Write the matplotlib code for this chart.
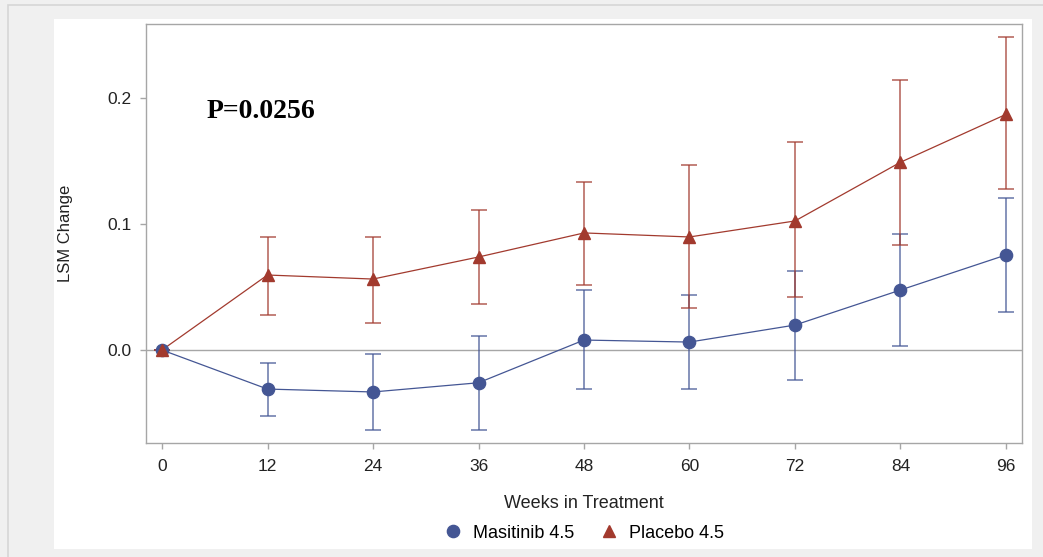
import numpy as np
import matplotlib.pyplot as plt
from matplotlib.patches import Rectangle
from matplotlib.lines import Line2D

# data
weeks = [0, 12, 24, 36, 48, 60, 72, 84, 96]

masitinib = [0.0, -0.031, -0.0333, -0.026, 0.0079, 0.0063, 0.0198, 0.0476, 0.0754]
masitinib_lo = [0.0, -0.0524, -0.0635, -0.0635, -0.031, -0.031, -0.024, 0.003, 0.030]
masitinib_hi = [0.0, -0.0103, -0.0032, 0.011, 0.048, 0.0437, 0.0627, 0.092, 0.1206]

placebo = [0.0, 0.0595, 0.0563, 0.0738, 0.0929, 0.0897, 0.1024, 0.149, 0.187]
placebo_lo = [0.0, 0.0278, 0.0214, 0.0365, 0.0516, 0.0333, 0.042, 0.083, 0.128]
placebo_hi = [0.0, 0.0897, 0.0897, 0.111, 0.1333, 0.1468, 0.165, 0.214, 0.248]

p_text = 'P=0.0256'
blue = '#445694'
red = '#A23A2E'
grey = '#a6a6a6'

plt.rcParams['font.family'] = ['Liberation Sans', 'DejaVu Sans']

fig = plt.figure(figsize=(10.43, 5.57), dpi=100, facecolor='#f0f0f0')

# outer border and white panel (behind the axes)
fig.patches.append(Rectangle((8 / 1043, -0.1), 1.2, 1.1 - 5 / 557, transform=fig.transFigure,
                             facecolor='none', edgecolor='#d6d6d6', lw=1.2, zorder=-2))
fig.patches.append(Rectangle((54 / 1043, 8 / 557), 978 / 1043, 530 / 557, transform=fig.transFigure,
                             facecolor='white', edgecolor='none', zorder=-1))

ax = fig.add_axes([146 / 1043, 1 - 443 / 557, 876 / 1043, 419 / 557])
ax.set_facecolor('white')

ax.axhline(0, color=grey, lw=1.0, zorder=1)

def draw(vals, lo, hi, color, marker, ms):
    v = np.array(vals)
    yerr = [v - np.array(lo), np.array(hi) - v]
    ax.errorbar(weeks, v, yerr=yerr, fmt='none', ecolor=color, elinewidth=1.2,
                capsize=5.8, capthick=1.2, alpha=0.75, zorder=2)
    ax.plot(weeks, v, color=color, lw=0.9, zorder=3)
    ax.plot(weeks, v, ls='none', marker=marker, ms=ms, color=color, mec=color, zorder=4)

draw(masitinib, masitinib_lo, masitinib_hi, blue, 'o', 8.8)
draw(placebo, placebo_lo, placebo_hi, red, '^', 9)

ax.set_xlim(-1.82, 97.82)
ax.set_ylim(-0.0738, 0.2587)
ax.set_xticks(weeks)
ax.set_yticks([0.0, 0.1, 0.2])
ax.set_yticklabels(['0.0', '0.1', '0.2'])

for s in ax.spines.values():
    s.set_color(grey)
    s.set_linewidth(1.0)
ax.tick_params(direction='out', length=4.5, width=1.0, color=grey,
               labelsize=12.5, labelcolor='#222222')
ax.tick_params(axis='x', pad=7)
ax.tick_params(axis='y', pad=6)

ax.set_xlabel('Weeks in Treatment', fontsize=13, color='#222222')
ax.set_ylabel('LSM Change', fontsize=12, color='#222222')
ax.xaxis.set_label_coords(0.5, -0.124)
ax.yaxis.set_label_coords(-0.0833, 0.5)

ax.text((207 - 146) / 876, (443 - 112) / 419, p_text, transform=ax.transAxes,
        family='Liberation Serif', fontweight='bold', fontsize=20, ha='left', va='center', color='black')

handles = [
    Line2D([], [], ls='none', marker='o', ms=8.8, color=blue, label='Masitinib 4.5'),
    Line2D([], [], ls='none', marker='^', ms=9, color=red, label='Placebo 4.5'),
]
fig.legend(handles=handles, loc='center', bbox_to_anchor=(584 / 1043, 1 - 533 / 557), ncol=2,
           frameon=False, fontsize=13, handletextpad=0.6, columnspacing=1.4, handlelength=1.0)

fig.savefig('out.png', dpi=100, facecolor=fig.get_facecolor())
